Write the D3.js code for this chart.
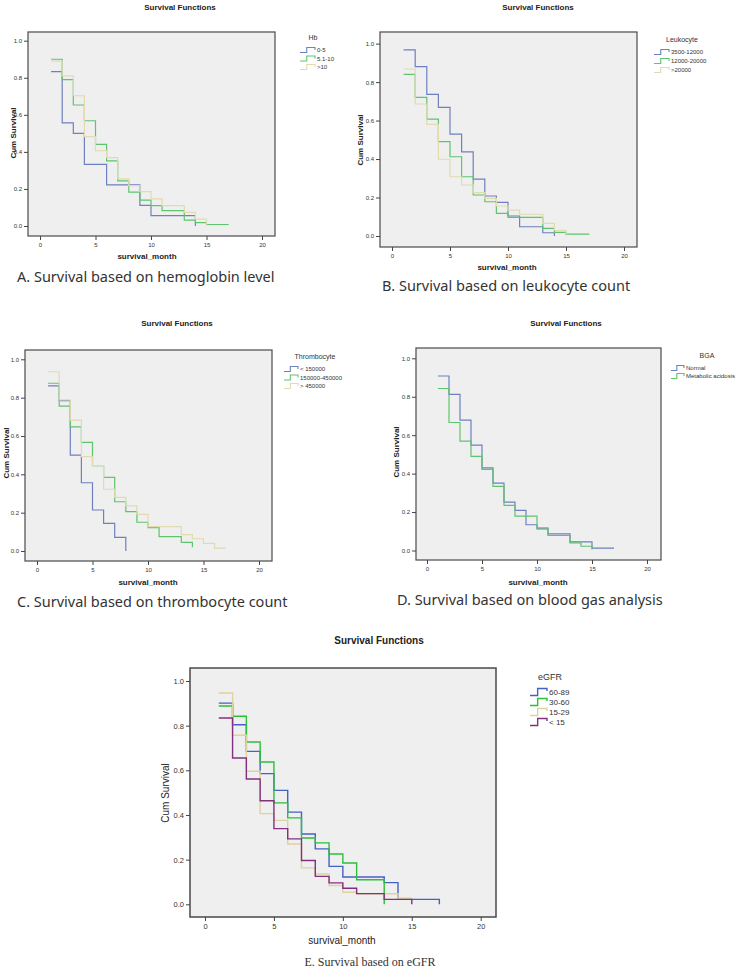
<!DOCTYPE html>
<html>
<head>
<meta charset="utf-8">
<script src="https://cdn.jsdelivr.net/npm/d3@7"></script>
<style>
  body { margin: 0; background: #fff; }
  svg { display: block; }
</style>
</head>
<body>
<script>
// x/y tick values shared by all five plots
var monthTicks = [0, 5, 10, 15, 20];
var survTicks = [0, 0.2, 0.4, 0.6, 0.8, 1.0];

// A. hemoglobin
var hbGroups = ["0-5", "5.1-10", ">10"];
var hbTimes = [
  [1, 2, 3, 4, 6, 9, 10, 14],
  [1, 2, 3, 4, 5, 6, 7, 8, 9, 10, 11, 13, 14, 15, 17],
  [1, 2, 3, 4, 5, 6, 7, 8, 9, 10, 11, 13, 14, 15]
];
var hbSurv = [
  [0.833, 0.556, 0.5, 0.333, 0.222, 0.111, 0.056, 0.0],
  [0.9, 0.79, 0.653, 0.568, 0.441, 0.351, 0.243, 0.183, 0.14, 0.11, 0.083, 0.032, 0.018, 0.008, 0.008],
  [0.89, 0.81, 0.703, 0.482, 0.406, 0.369, 0.254, 0.218, 0.185, 0.146, 0.11, 0.074, 0.037, 0.0]
];

// B. leukocyte
var leuGroups = ["3500-12000", "12000-20000", ">20000"];
var leuTimes = [
  [1, 2, 3, 4, 5, 6, 7, 8, 9, 10, 11, 13, 14],
  [1, 2, 3, 4, 5, 6, 7, 8, 9, 10, 13, 14, 15, 17],
  [1, 2, 3, 4, 5, 6, 7, 8, 9, 10, 11, 13, 14, 15]
];
var leuSurv = [
  [0.967, 0.88, 0.736, 0.669, 0.529, 0.437, 0.296, 0.208, 0.175, 0.104, 0.048, 0.017, 0.0],
  [0.84, 0.721, 0.607, 0.49, 0.412, 0.308, 0.213, 0.178, 0.118, 0.097, 0.04, 0.019, 0.01, 0.01],
  [0.868, 0.686, 0.58, 0.399, 0.308, 0.265, 0.225, 0.196, 0.156, 0.135, 0.113, 0.066, 0.03, 0.0]
];

// C. thrombocyte
var thrGroups = ["< 150000", "150000-450000", "> 450000"];
var thrTimes = [
  [1, 2, 3, 4, 5, 6, 7, 8],
  [1, 2, 3, 4, 5, 6, 7, 8, 9, 10, 11, 13, 14],
  [1, 2, 3, 4, 5, 6, 7, 8, 9, 10, 13, 14, 15, 16, 17]
];
var thrSurv = [
  [0.861, 0.784, 0.5, 0.356, 0.214, 0.144, 0.071, 0.0],
  [0.875, 0.756, 0.648, 0.567, 0.445, 0.384, 0.257, 0.205, 0.15, 0.122, 0.075, 0.045, 0.02],
  [0.935, 0.788, 0.683, 0.492, 0.445, 0.322, 0.28, 0.235, 0.191, 0.127, 0.085, 0.064, 0.04, 0.015, 0.015]
];

// D. blood gas analysis
var bgaGroups = ["Normal", "Metabolic acidosis"];
var bgaTimes = [
  [1, 2, 3, 4, 5, 6, 7, 8, 9, 10, 11, 13, 15, 17],
  [1, 2, 3, 4, 5, 6, 7, 8, 10, 11, 13, 14, 15]
];
var bgaSurv = [
  [0.908, 0.812, 0.678, 0.548, 0.423, 0.351, 0.252, 0.209, 0.134, 0.113, 0.087, 0.045, 0.012, 0.012],
  [0.843, 0.666, 0.569, 0.49, 0.431, 0.334, 0.235, 0.179, 0.118, 0.078, 0.04, 0.022, 0.005]
];

// E. eGFR
var egfrGroups = ["60-89", "30-60", "15-29", "< 15"];
var egfrTimes = [
  [1, 2, 3, 4, 5, 6, 7, 8, 9, 10, 13, 14, 17],
  [1, 2, 3, 4, 5, 6, 7, 8, 9, 10, 11, 13],
  [1, 2, 3, 4, 5, 6, 7, 8, 9, 10, 11, 14, 15],
  [1, 2, 3, 4, 5, 6, 7, 8, 9, 10, 11, 13, 15]
];
var egfrSurv = [
  [0.901, 0.804, 0.685, 0.585, 0.51, 0.413, 0.315, 0.248, 0.17, 0.122, 0.097, 0.022, 0.0],
  [0.888, 0.842, 0.727, 0.637, 0.454, 0.387, 0.297, 0.275, 0.225, 0.185, 0.11, 0.0],
  [0.946, 0.757, 0.596, 0.406, 0.376, 0.27, 0.163, 0.136, 0.084, 0.054, 0.047, 0.027, 0.027],
  [0.834, 0.655, 0.561, 0.464, 0.339, 0.293, 0.196, 0.125, 0.096, 0.072, 0.048, 0.022, 0.0]
];

var paleColors = ["#6e80bf", "#5ec46e", "#e0dbb0"];
var egfrColors = ["#4461c4", "#2dbf3a", "#dcd3a0", "#84307f"];

var svg = d3.select("body").append("svg")
  .attr("width", 738)
  .attr("height", 972)
  .style("font-family", "'Liberation Sans', Arial, sans-serif");

function drawPanel(p) {
  var g = svg.append("g");
  var x = d3.scaleLinear().domain([0, 20]).range(p.xr);
  var y = d3.scaleLinear().domain([0, 1]).range(p.yr);

  g.append("rect")
    .attr("x", p.box[0]).attr("y", p.box[1])
    .attr("width", p.box[2] - p.box[0]).attr("height", p.box[3] - p.box[1])
    .attr("fill", "#efefef")
    .attr("stroke", "#4a4a4a")
    .attr("stroke-width", p.big ? 1.5 : 1.2);

  // survival step lines
  var line = d3.line()
    .x(function (d) { return x(d[0]); })
    .y(function (d) { return y(d[1]); })
    .curve(d3.curveStepAfter);

  p.times.forEach(function (t, i) {
    var pts = t.map(function (m, j) { return [m, p.surv[i][j]]; });
    g.append("path")
      .datum(pts)
      .attr("fill", "none")
      .attr("stroke", p.colors[i])
      .attr("stroke-width", p.big ? 1.4 : 1.2)
      .attr("d", line);
  });

  // axes
  var yAxis = g.append("g")
    .attr("transform", "translate(" + p.box[0] + ",0)")
    .call(d3.axisLeft(y).tickValues(survTicks).tickSize(4).tickPadding(2).tickFormat(d3.format(".1f")));
  var xAxis = g.append("g")
    .attr("transform", "translate(0," + p.box[3] + ")")
    .call(d3.axisBottom(x).tickValues(monthTicks).tickSize(4).tickPadding(3));
  [xAxis, yAxis].forEach(function (a) {
    a.select(".domain").remove();
    a.selectAll("line").attr("stroke", "#444");
    a.selectAll("text")
      .attr("fill", "#333")
      .style("font-size", p.tickFont + "px")
      .style("font-family", "'Liberation Sans', Arial, sans-serif");
  });

  g.append("text")
    .attr("x", p.title[0]).attr("y", p.title[1])
    .attr("text-anchor", "middle")
    .attr("font-weight", "bold")
    .attr("font-size", p.titleFont)
    .attr("fill", "#222")
    .text("Survival Functions");

  g.append("text")
    .attr("transform", "translate(" + p.ylab[0] + "," + p.ylab[1] + ") rotate(-90)")
    .attr("text-anchor", "middle")
    .attr("dy", "0.35em")
    .attr("font-weight", p.big ? "normal" : "bold")
    .attr("font-size", p.labFont)
    .attr("fill", "#222")
    .text("Cum Survival");

  g.append("text")
    .attr("x", p.xlab[0]).attr("y", p.xlab[1])
    .attr("text-anchor", "middle")
    .attr("font-weight", p.big ? "normal" : "bold")
    .attr("font-size", p.labFont)
    .attr("fill", "#222")
    .text("survival_month");

  // legend
  var lg = g.append("g");
  lg.append("text")
    .attr("x", p.leg.title[0]).attr("y", p.leg.title[1])
    .attr("text-anchor", "middle")
    .attr("dy", "0.35em")
    .attr("font-size", p.legTitleFont)
    .attr("fill", "#333")
    .text(p.leg.name);
  p.groups.forEach(function (name, i) {
    var ry = p.leg.rows[0] + i * p.leg.step;
    var x0 = p.leg.sym[0], x1 = p.leg.sym[1], h = p.big ? 3.5 : 2.5;
    lg.append("path")
      .attr("fill", "none")
      .attr("stroke", p.colors[i])
      .attr("stroke-width", p.big ? 1.4 : 1.1)
      .attr("d", "M" + x0 + "," + (ry + h) + "H" + (x0 + (x1 - x0) * 0.45) +
        "V" + (ry - h) + "H" + x1 + "V" + (ry - h + 2.5));
    lg.append("text")
      .attr("x", x1 + 2).attr("y", ry)
      .attr("dy", "0.35em")
      .attr("font-size", p.legFont)
      .attr("fill", "#333")
      .text(name);
  });
}

drawPanel({
  box: [28, 32, 275, 236], xr: [40, 262], yr: [226, 40.7],
  times: hbTimes, surv: hbSurv, groups: hbGroups, colors: paleColors,
  title: [180, 10], ylab: [13, 133], xlab: [147, 259],
  tickFont: 6, titleFont: 8, labFont: 8, legFont: 6, legTitleFont: 7,
  leg: { name: "Hb", title: [313, 38], rows: [50], step: 8.5, sym: [300, 315] }
});

drawPanel({
  box: [380, 32, 637, 247], xr: [392, 624], yr: [236, 43.6],
  times: leuTimes, surv: leuSurv, groups: leuGroups, colors: paleColors,
  title: [538, 10], ylab: [360, 140], xlab: [507, 270],
  tickFont: 6, titleFont: 8, labFont: 8, legFont: 6, legTitleFont: 7,
  leg: { name: "Leukocyte", title: [682, 40], rows: [52], step: 9, sym: [654, 669] }
});

drawPanel({
  box: [25, 350, 272, 561], xr: [37, 259], yr: [551, 359.3],
  times: thrTimes, surv: thrSurv, groups: thrGroups, colors: paleColors,
  title: [177, 326], ylab: [6, 453], xlab: [148, 585],
  tickFont: 6, titleFont: 8, labFont: 8, legFont: 6, legTitleFont: 7,
  leg: { name: "Thrombocyte", title: [315, 357], rows: [369], step: 8.5, sym: [284, 298] }
});

drawPanel({
  box: [416, 348, 661, 560], xr: [427, 647], yr: [550.5, 358.3],
  times: bgaTimes, surv: bgaSurv, groups: bgaGroups, colors: paleColors,
  title: [566, 326], ylab: [396, 452], xlab: [538, 585],
  tickFont: 6, titleFont: 8, labFont: 8, legFont: 6, legTitleFont: 7,
  leg: { name: "BGA", title: [707, 356], rows: [368], step: 8, sym: [671, 684] }
});

drawPanel({
  big: true,
  box: [190, 668, 496, 917], xr: [205, 480.7], yr: [904.3, 681],
  times: egfrTimes, surv: egfrSurv, groups: egfrGroups, colors: egfrColors,
  title: [379, 644], ylab: [165, 793], xlab: [342, 944],
  tickFont: 7.5, titleFont: 10, labFont: 10, legFont: 8, legTitleFont: 9,
  leg: { name: "eGFR", title: [550, 677], rows: [692], step: 10, sym: [530, 547] }
});

// captions under each chart
var captions = [
  { text: "A. Survival based on hemoglobin level", x: 17, y: 282 },
  { text: "B. Survival based on leukocyte count", x: 382, y: 291 },
  { text: "C. Survival based on thrombocyte count", x: 17, y: 607 },
  { text: "D. Survival based on blood gas analysis", x: 397, y: 605 }
];
svg.selectAll("text.caption")
  .data(captions)
  .enter()
  .append("text")
  .attr("class", "caption")
  .attr("x", function (d) { return d.x; })
  .attr("y", function (d) { return d.y; })
  .attr("font-family", "'Noto Sans', 'Open Sans', sans-serif")
  .attr("font-size", 14.5)
  .attr("fill", "#333")
  .text(function (d) { return d.text; });

svg.append("text")
  .attr("x", 370).attr("y", 966)
  .attr("text-anchor", "middle")
  .attr("font-family", "'Liberation Serif', 'Times New Roman', serif")
  .attr("font-size", 12)
  .attr("fill", "#333")
  .text("E. Survival based on eGFR");
</script>
</body>
</html>
